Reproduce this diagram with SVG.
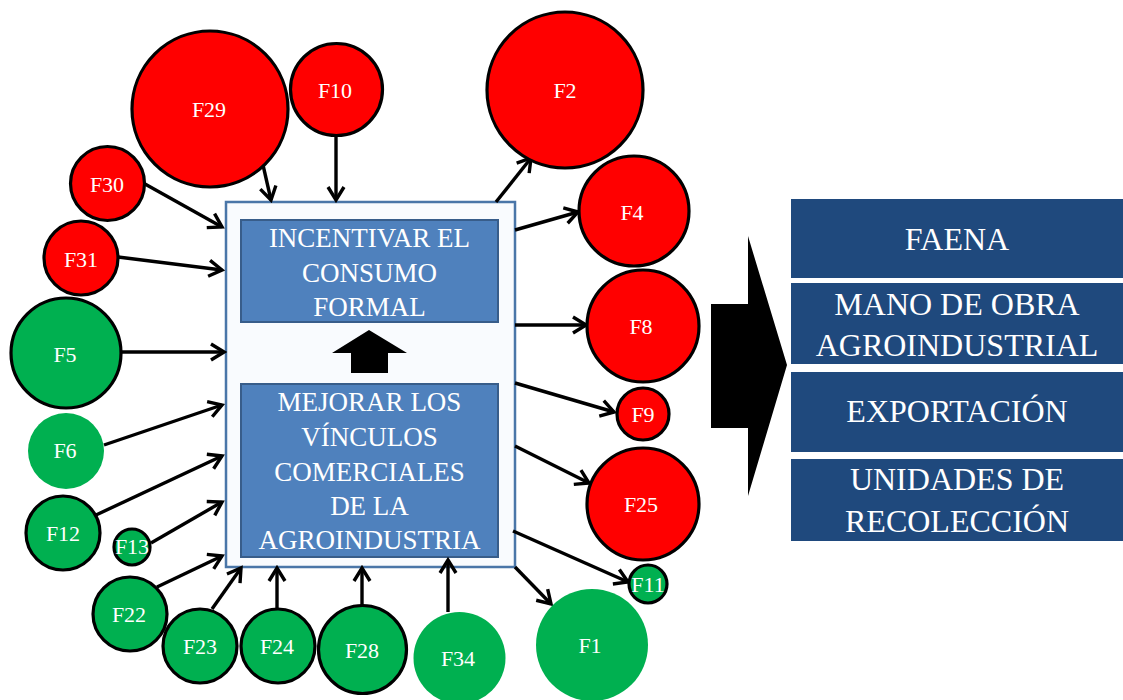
<svg xmlns="http://www.w3.org/2000/svg" width="1123" height="700" viewBox="0 0 1123 700">
<defs>
<style>
.r{fill:#ff0000;stroke:#000;stroke-width:3.2}
.g{fill:#00b050;stroke:#000;stroke-width:3.2}
.gn{fill:#00b050;stroke:none}
.lbl{font-family:"Liberation Serif","Times New Roman",serif;font-size:22px;fill:#fff;text-anchor:middle}
.btxt{font-family:"Liberation Serif","Times New Roman",serif;font-size:27px;fill:#fff;text-anchor:middle}
.rtxt{font-family:"Liberation Serif","Times New Roman",serif;font-size:32px;fill:#fff;text-anchor:middle}
.inner{fill:#4f81bd;stroke:#385d8a;stroke-width:2}
.rbox{fill:#1f497d}
.con line{stroke:#000;stroke-width:3.4;marker-end:url(#ah)}
</style>
<marker id="ah" viewBox="0 0 18 20" refX="15" refY="10" markerWidth="18" markerHeight="20" markerUnits="userSpaceOnUse" orient="auto">
<path d="M2,2 L15,10 L2,18" fill="none" stroke="#000" stroke-width="3.4"/>
</marker>
</defs>
<rect width="1123" height="700" fill="#fff"/>

<g id="center">
<rect x="226" y="202" width="289" height="365" fill="#f9fbfe" stroke="#4a76a8" stroke-width="2.5"/>
<rect class="inner" x="241" y="220" width="257" height="102"/>
<text class="btxt" x="369.5" y="247">INCENTIVAR  EL</text>
<text class="btxt" x="369.5" y="282">CONSUMO</text>
<text class="btxt" x="369.5" y="316">FORMAL</text>
<polygon points="369,330 407,353 388,353 388,373 351,373 351,353 332,353" fill="#000"/>
<rect class="inner" x="241" y="384" width="257" height="173"/>
<text class="btxt" x="369.5" y="411">MEJORAR  LOS</text>
<text class="btxt" x="369.5" y="446">VÍNCULOS</text>
<text class="btxt" x="369.5" y="481">COMERCIALES</text>
<text class="btxt" x="369.5" y="515">DE LA</text>
<text class="btxt" x="369.5" y="549">AGROINDUSTRIA</text>
</g>

<g class="con" id="connectors">
<line x1="263" y1="165" x2="271" y2="200"/>
<line x1="336" y1="136" x2="336" y2="200"/>
<line x1="145" y1="184" x2="222" y2="227"/>
<line x1="118" y1="257" x2="222" y2="270"/>
<line x1="122" y1="352" x2="224" y2="352"/>
<line x1="104" y1="445" x2="222" y2="405"/>
<line x1="96" y1="515" x2="222" y2="456"/>
<line x1="151" y1="543" x2="222" y2="502"/>
<line x1="157" y1="587" x2="222" y2="556"/>
<line x1="212" y1="609" x2="241" y2="568"/>
<line x1="277" y1="609" x2="277" y2="568"/>
<line x1="362" y1="605" x2="362" y2="568"/>
<line x1="448" y1="612" x2="448" y2="560"/>
<line x1="496" y1="202" x2="531" y2="158"/>
<line x1="515" y1="230" x2="578" y2="212"/>
<line x1="515" y1="325" x2="586" y2="325"/>
<line x1="515" y1="383" x2="614" y2="412"/>
<line x1="515" y1="446" x2="589" y2="483"/>
<line x1="513" y1="531" x2="628" y2="582"/>
<line x1="515" y1="567" x2="551" y2="604"/>
</g>

<g id="F29"><circle class="r" cx="210" cy="109" r="78"/><text class="lbl" x="209" y="117">F29</text></g>
<g id="F10"><circle class="r" cx="336.5" cy="89.5" r="46"/><text class="lbl" x="335" y="98">F10</text></g>
<g id="F30"><circle class="r" cx="107.5" cy="183.5" r="37"/><text class="lbl" x="107" y="192">F30</text></g>
<g id="F31"><circle class="r" cx="81" cy="258" r="37"/><text class="lbl" x="81" y="267">F31</text></g>
<g id="F5"><circle class="g" cx="66" cy="353" r="55"/><text class="lbl" x="65" y="362">F5</text></g>
<g id="F6"><circle class="gn" cx="66" cy="451" r="38"/><text class="lbl" x="65" y="458">F6</text></g>
<g id="F12"><circle class="g" cx="63" cy="533" r="37"/><text class="lbl" x="63" y="541">F12</text></g>
<g id="F13"><circle class="g" cx="132" cy="547" r="18"/><text class="lbl" x="132" y="554">F13</text></g>
<g id="F22"><circle class="g" cx="130" cy="614" r="37"/><text class="lbl" x="129" y="622">F22</text></g>
<g id="F23"><circle class="g" cx="200" cy="646" r="37"/><text class="lbl" x="200" y="654">F23</text></g>
<g id="F24"><circle class="g" cx="278" cy="646" r="37"/><text class="lbl" x="277" y="654">F24</text></g>
<g id="F28"><circle class="g" cx="362.5" cy="649.5" r="44"/><text class="lbl" x="362" y="658">F28</text></g>
<g id="F34"><circle class="gn" cx="459.5" cy="658" r="46"/><text class="lbl" x="458" y="666">F34</text></g>
<g id="F2"><circle class="r" cx="565" cy="90" r="78"/><text class="lbl" x="565" y="98">F2</text></g>
<g id="F4"><circle class="r" cx="634" cy="211" r="55"/><text class="lbl" x="632" y="220">F4</text></g>
<g id="F8"><circle class="r" cx="643" cy="326" r="56"/><text class="lbl" x="641" y="334">F8</text></g>
<g id="F9"><circle class="r" cx="643" cy="414" r="26"/><text class="lbl" x="643" y="422">F9</text></g>
<g id="F25"><circle class="r" cx="643" cy="504" r="56"/><text class="lbl" x="641" y="512">F25</text></g>
<g id="F11"><circle class="g" cx="648" cy="584" r="19"/><text class="lbl" x="648" y="592">F11</text></g>
<g id="F1"><circle class="gn" cx="592" cy="645" r="56"/><text class="lbl" x="590" y="653">F1</text></g>

<g id="bigArrow"><polygon points="711,304 748,304 748,236 787,365 748,496 748,428 711,428" fill="#000"/></g>

<g id="FAENA"><rect class="rbox" x="791" y="199" width="332" height="79"/><text class="rtxt" x="957" y="250">FAENA</text></g>
<g id="MANO"><rect class="rbox" x="791" y="283" width="332" height="81"/><text class="rtxt" x="957" y="315">MANO DE OBRA</text><text class="rtxt" x="957" y="356">AGROINDUSTRIAL</text></g>
<g id="EXPORT"><rect class="rbox" x="791" y="372" width="332" height="80"/><text class="rtxt" x="957" y="422">EXPORTACIÓN</text></g>
<g id="UNIDADES"><rect class="rbox" x="791" y="459" width="332" height="82"/><text class="rtxt" x="957" y="490">UNIDADES DE</text><text class="rtxt" x="957" y="532">RECOLECCIÓN</text></g>
</svg>
